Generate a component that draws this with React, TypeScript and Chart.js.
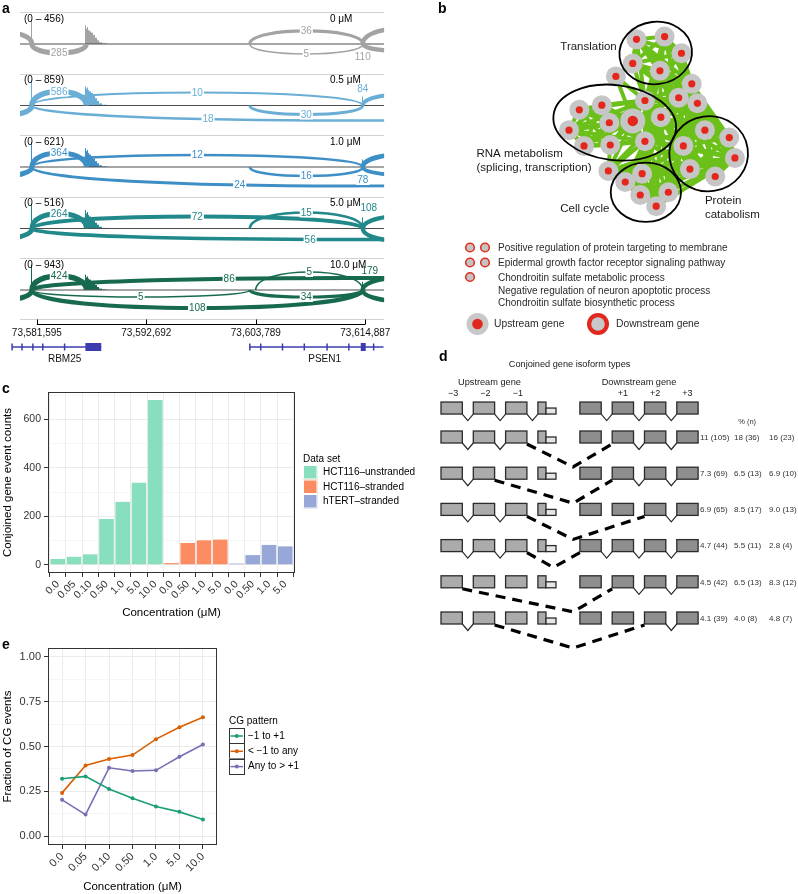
import React, { useEffect, useRef } from 'react';
import { Chart, registerables } from 'chart.js';

Chart.register(...registerables);

const FONT = '"Liberation Sans", Arial, Helvetica, sans-serif';
const fnt = (size: number, weight = 'normal') => `${weight} ${size}px ${FONT}`;

// ================= Panel a : sashimi data =================
const trackConcs = ['0 μM', '0.5 μM', '1.0 μM', '5.0 μM', '10.0 μM'];
const trackMaxCov = [456, 859, 621, 516, 943];
const trackColors = ['#a3a3a3', '#6aaed6', '#3e8fc6', '#22898b', '#176a50'];
const axisTicksA = [73581595, 73592692, 73603789, 73614887];
const viewStart = 73579888;
const viewEnd = 73616795;

const siteL = 73575000;
const siteA = 73581092;
const siteB = 73586615;
const siteC = 73603180;
const siteC2 = 73603780;
const siteD = 73614630;
const siteR = 73625000;
const siteFar = 73645000;

// [start, end, reads]
const junctions0 = [[siteL, siteA, 250], [siteA, siteB, 285], [siteC, siteD, 36], [siteC, siteD, 5], [siteD, siteR, 110], [siteD, siteR, 150]];
const junctions1 = [[siteL, siteA, 400], [siteA, siteB, 586], [siteA, siteD, 10], [siteA, siteFar, 18], [siteC, siteD, 30], [siteD, siteR, 84]];
const junctions2 = [[siteL, siteA, 300], [siteA, siteB, 364], [siteA, siteD, 12], [siteA, siteFar, 24], [siteC, siteD, 16], [siteD, siteR, 78], [siteD, siteR, 200]];
const junctions3 = [[siteL, siteA, 250], [siteA, siteB, 264], [siteA, siteD, 72], [siteC, siteD, 15], [siteA, siteFar, 56], [siteD, siteR, 108], [siteD, siteR, 120]];
const junctions4 = [[siteL, siteA, 300], [siteA, siteB, 424], [siteA, siteFar, 86], [siteC2, siteD, 5], [siteA, siteC, 5], [siteA, siteD, 108], [siteC, siteD, 34], [siteD, siteR, 179], [siteD, siteR, 150]];
const junctions = [junctions0, junctions1, junctions2, junctions3, junctions4];

// arc style: [height px (neg = above), label position along visible span (null = none), label dx, label dy]
const arcStyle0 = [[-12, null], [9, 0.5], [-13, 0.5], [10, 0.5], [7.5, 0, 0, 13], [-17, null]];
const arcStyle1 = [[10, null], [-14, 0.5], [-13, 0.5], [15, 0.5], [9, 0.5], [-12, 0, 0, -17]];
const arcStyle2 = [[9, null], [-14, 0.5], [-12, 0.5], [19, 0.59], [9, 0.5], [8.5, 0, 0, 13], [-13.5, null]];
const arcStyle3 = [[10, null], [-15, 0.5], [-12, 0.5], [-16, 0.5], [11, 0.79], [-13.5, 0, 6, -21], [13.5, null]];
const arcStyle4 = [[10, null], [-14, 0.5], [-12, 0.56], [-18, 0.5], [7, 0.5], [18, 0.5], [7, 0.5], [-13.5, 0, 7, -19], [12, null]];
const arcStyles = [arcStyle0, arcStyle1, arcStyle2, arcStyle3, arcStyle4];

const covBinStarts = [73581040, 73586515, 73586615, 73586715, 73586815, 73586915, 73587115, 73587315, 73587515, 73587715, 73587915, 73588215, 73614580];
const covBinEnds = [73581150, 73586615, 73586715, 73586815, 73586915, 73587115, 73587315, 73587515, 73587715, 73587915, 73588215, 73588715, 73614700];
const cov0 = [440, 330, 270, 300, 250, 225, 200, 160, 110, 65, 30, 12, 60];
const cov1 = [840, 640, 560, 600, 520, 470, 420, 330, 240, 150, 70, 25, 300];
const cov2 = [600, 450, 380, 410, 340, 300, 260, 200, 140, 90, 40, 15, 180];
const cov3 = [500, 370, 300, 330, 270, 240, 210, 160, 115, 75, 35, 12, 220];
const cov4 = [930, 560, 460, 500, 420, 380, 330, 260, 180, 110, 50, 18, 300];
const coverage = [cov0, cov1, cov2, cov3, cov4];

const geneNames = ['RBM25', 'PSEN1'];
const rbm25Span = [73579085, 73588121];
const psen1Span = [73603181, 73616735];
const rbm25Exons = [[73579085, 73579130], [73580089, 73580130], [73581193, 73581240], [73582197, 73582240], [73584406, 73584450], [73586515, 73588121]];
const psen1Exons = [[73603181, 73603220], [73604285, 73604330], [73606494, 73606540], [73608703, 73608750], [73611012, 73611060], [73613221, 73613270], [73614426, 73614929], [73615731, 73615780]];

// ================= Panel b : network =================
const nodeX = [7.9, 10.9, 12.7, 7.5, 10.4, 5.7, 13.8, 12.4, 14.4, 8.8, 1.8, 4.2, 7.5, 10.5, 5.0, 0.7, 2.3, 5.1, 8.8, 15.2, 17.8, 12.9, 18.4, 13.6, 16.3, 4.9, 8.5, 6.7, 11.3, 8.3, 10.0];
const nodeY = [20.1, 20.4, 18.6, 17.5, 16.7, 16.1, 15.3, 13.8, 13.2, 13.5, 12.5, 13.0, 11.3, 11.7, 11.1, 10.3, 8.6, 8.7, 9.1, 10.3, 9.5, 8.6, 7.3, 6.1, 5.3, 5.9, 5.6, 4.7, 3.6, 3.3, 2.1];
const nodeSize = [1, 1, 1, 1, 1, 1, 1, 1, 1, 1, 1, 1, 1.25, 1, 1, 1, 1, 1, 1, 1, 1, 1, 1, 1, 1, 1, 1, 1, 1, 1, 1];
const groupTranslation = [0, 1, 2, 3, 4, 6, 7, 8, 9];
const groupHub = [4, 6, 7, 8, 9, 12, 13, 18, 21, 19];
const groupProtein = [6, 7, 8, 13, 19, 20, 21, 22, 23, 24];
const groupCellCycle = [13, 18, 21, 22, 23, 25, 26, 27, 28, 29, 30];
const groupRna = [9, 10, 11, 12, 14, 15, 16, 17, 18];
const extraEdges = [[5, 3], [5, 9], [5, 12], [25, 17], [25, 12], [25, 27], [11, 9], [15, 16], [0, 3], [2, 6]];
const clusterLabels = [['Translation'], ['RNA metabolism', '(splicing, transcription)'], ['Protein', 'catabolism'], ['Cell cycle']];
const clusterCX = [9.95, 5.58, 15.6, 8.9];
const clusterCY = [18.63, 11.12, 7.75, 3.6];
const clusterRX = [3.88, 6.58, 4.2, 3.75];
const clusterRY = [3.37, 4.05, 4.05, 3.2];
const clusterRot = [-7, 7, -8, 0];
const clusterLabelX = [-0.23, -9.17, 15.2, -0.23];
const clusterLabelY = [19.3, 7.7, 2.7, 1.8];
const goTermsTwoNodes = ['Positive regulation of protein targeting to membrane', 'Epidermal growth factor receptor signaling pathway'];
const goTermsOneNode = ['Chondroitin sulfate metabolic process', 'Negative regulation of neuron apoptotic process', 'Chondroitin sulfate biosynthetic process'];

// ================= Panel c : bars =================
const concC = ['0.0', '0.05', '0.10', '0.50', '1.0', '5.0', '10.0', '0.0', '0.50', '1.0', '5.0', '0.0', '0.50', '1.0', '5.0'];
const dataSetNames = ['HCT116–unstranded', 'HCT116–stranded', 'hTERT–stranded'];
const dataSetColors = ['#88dfbd', '#fc8d62', '#97a7d8'];
const countsUnstranded = [24, 33, 43, 189, 260, 339, 681];
const countsHctStranded = [7, 90, 101, 104];
const countsHtertStranded = [5, 40, 82, 76];
const countTicks = [0, 100, 200, 300, 400, 500, 600, 700];

// ================= Panel d : isoform types =================
const upstreamExonLabels = ['−3', '−2', '−1'];
const downstreamExonLabels = ['+1', '+2', '+3'];
const isoUpEnd = [2, 1, 2, 2, 0, 1];
const isoDownStart = [1, 1, 2, 0, 1, 2];
const pctUnstranded = [11, 7.3, 6.9, 4.7, 4.5, 4.1];
const nUnstranded = [105, 69, 65, 44, 42, 39];
const pctHctStranded = [18, 6.5, 8.5, 5.5, 6.5, 4.0];
const nHctStranded = [36, 13, 17, 11, 13, 8];
const pctHtertStranded = [16, 6.9, 9.0, 2.8, 8.3, 4.8];
const nHtertStranded = [23, 10, 13, 4, 12, 7];
const UP_SLOTS = [0, 1, 2, 3];
const DOWN_SLOTS = [4.3, 5.3, 6.3, 7.3];
const EXON_W = 0.66;

// ================= Panel e : lines =================
const concE = ['0.0', '0.05', '0.10', '0.50', '1.0', '5.0', '10.0'];
const patternNames = ['−1 to +1', '< −1 to any', 'Any to > +1'];
const patternColors = ['#1b9e77', '#d95f02', '#7570b3'];
const fracMinus1ToPlus1 = [0.320, 0.333, 0.263, 0.211, 0.165, 0.135, 0.093];
const fracLessMinus1ToAny = [0.241, 0.394, 0.430, 0.452, 0.541, 0.607, 0.663];
const fracAnyToMorePlus1 = [0.202, 0.120, 0.381, 0.363, 0.367, 0.443, 0.511];
const fractionTicks = [0, 0.125, 0.25, 0.375, 0.5, 0.625, 0.75, 0.875, 1];

// ================= helpers =================
function panelLetter(ctx: any, letter: string, x: number, y: number) {
  ctx.save();
  ctx.font = fnt(14, 'bold');
  ctx.fillStyle = '#000';
  ctx.textAlign = 'left';
  ctx.textBaseline = 'alphabetic';
  ctx.fillText(letter, x, y);
  ctx.restore();
}

const panelBorder = {
  id: 'panelBorder',
  afterDraw(chart: any) {
    const { ctx, chartArea: ca } = chart;
    ctx.save();
    ctx.strokeStyle = '#333';
    ctx.lineWidth = 1;
    ctx.strokeRect(Math.round(ca.left) + 0.5, Math.round(ca.top) + 0.5, Math.round(ca.right - ca.left) - 1, Math.round(ca.bottom - ca.top) - 1);
    ctx.restore();
  },
};

const baseOpts = {
  responsive: false,
  animation: false,
  devicePixelRatio: 1,
  events: [],
};

// ================= Panel a config =================
const sashimiPlugin = {
  id: 'sashimi',
  afterDraw(chart: any) {
    const { ctx, chartArea: ca } = chart;
    const xs = chart.scales.x;
    const ys = chart.scales.y;
    const X = (v: number) => xs.getPixelForValue(v);
    const Y = (v: number) => ys.getPixelForValue(v);
    ctx.save();
    panelLetter(ctx, 'a', 2, 13.3);

    ctx.strokeStyle = '#d2d2d2';
    ctx.lineWidth = 1;
    const seps = trackConcs.map((_, i) => i - 0.52).concat([trackConcs.length - 1 + 0.47]);
    seps.forEach((v) => {
      const yy = Math.round(Y(v)) + 0.5;
      ctx.beginPath();
      ctx.moveTo(ca.left, yy);
      ctx.lineTo(ca.right, yy);
      ctx.stroke();
    });

    trackConcs.forEach((conc, i) => {
      const color = trackColors[i];
      const base = Y(i);
      ctx.save();
      ctx.beginPath();
      ctx.rect(ca.left, Y(i - 0.5), ca.right - ca.left, Y(i + 0.5) - Y(i - 0.5));
      ctx.clip();
      // coverage (integer-aligned bins so they tile without gaps)
      ctx.fillStyle = color;
      const cov = coverage[i];
      covBinStarts.forEach((s, k) => {
        const top = Y(i - (0.42 * cov[k]) / trackMaxCov[i]);
        const x0 = Math.floor(X(s));
        const x1 = Math.floor(X(covBinEnds[k]));
        ctx.fillRect(x0, top, Math.max(1, x1 - x0), base - top);
      });
      // baseline
      ctx.strokeStyle = '#4d4d4d';
      ctx.lineWidth = 1.2;
      ctx.beginPath();
      ctx.moveTo(ca.left, base);
      ctx.lineTo(ca.right, base);
      ctx.stroke();
      // arcs
      const sty = arcStyles[i];
      const geom = junctions[i].map(([s, e, n], k) => ({
        x0: X(s),
        x1: X(e),
        k: (sty[k][0] as number) / 0.75,
        lw: Math.max(1, 0.3 + 1.9 * Math.log10(n)),
        n,
      }));
      ctx.strokeStyle = color;
      ctx.lineCap = 'butt';
      geom.forEach((g) => {
        ctx.lineWidth = g.lw;
        ctx.beginPath();
        ctx.moveTo(g.x0, base);
        ctx.bezierCurveTo(g.x0, base + g.k, g.x1, base + g.k, g.x1, base);
        ctx.stroke();
      });
      ctx.restore();

      // arc labels
      ctx.font = fnt(10);
      ctx.textAlign = 'center';
      ctx.textBaseline = 'middle';
      geom.forEach((g, k) => {
        const st = sty[k];
        if (st[1] == null) return;
        const vx0 = Math.max(g.x0, ca.left);
        const vx1 = Math.min(g.x1, ca.right);
        const tx = vx0 + (st[1] as number) * (vx1 - vx0);
        const bx = (t: number) => g.x0 * ((1 - t) ** 3 + 3 * t * (1 - t) ** 2) + g.x1 * (3 * t * t * (1 - t) + t ** 3);
        let lo = 0;
        let hi = 1;
        for (let it = 0; it < 40; it++) {
          const t = (lo + hi) / 2;
          if (bx(t) < tx) lo = t;
          else hi = t;
        }
        const t = (lo + hi) / 2;
        const yt = base + 3 * t * (1 - t) * g.k;
        const lx = tx + ((st[2] as number) || 0);
        const ly = yt + ((st[3] as number) || 0);
        const txt = String(g.n);
        const w = ctx.measureText(txt).width;
        ctx.fillStyle = '#fff';
        ctx.fillRect(lx - w / 2 - 1, ly - 5, w + 2, 10);
        ctx.fillStyle = color;
        ctx.fillText(txt, lx, ly + 0.5);
      });

      // track labels
      ctx.fillStyle = '#000';
      ctx.textAlign = 'left';
      ctx.fillText(`(0 – ${trackMaxCov[i]})`, ca.left + 4, base - 25);
      ctx.fillText(conc, ca.left + 310, base - 25);
    });

    // coordinate bracket
    const by = ca.bottom + 6.5;
    ctx.strokeStyle = '#000';
    ctx.lineWidth = 1;
    ctx.beginPath();
    ctx.moveTo(X(axisTicksA[0]), by);
    ctx.lineTo(X(axisTicksA[axisTicksA.length - 1]), by);
    axisTicksA.forEach((v) => {
      const xx = Math.round(X(v)) + 0.5;
      ctx.moveTo(xx, by);
      ctx.lineTo(xx, by - 5);
    });
    ctx.stroke();

    // gene models
    const gy = ca.bottom + 29;
    const geneColor = '#3c3cb0';
    [[rbm25Span, rbm25Exons], [psen1Span, psen1Exons]].forEach(([span, exons]: any, gi) => {
      ctx.strokeStyle = geneColor;
      ctx.fillStyle = geneColor;
      ctx.lineWidth = 1.5;
      ctx.beginPath();
      ctx.moveTo(X(span[0]), gy);
      ctx.lineTo(X(span[1]), gy);
      ctx.stroke();
      exons.forEach(([s, e]: number[]) => {
        const x0 = X(s);
        const x1 = X(e);
        if (x1 - x0 < 3) {
          ctx.beginPath();
          ctx.moveTo(x0, gy - 3.5);
          ctx.lineTo(x0, gy + 3.5);
          ctx.stroke();
        } else {
          ctx.fillRect(x0, gy - 4, x1 - x0, 8);
        }
      });
      ctx.fillStyle = '#111';
      ctx.font = fnt(10);
      ctx.textAlign = 'center';
      ctx.textBaseline = 'middle';
      ctx.fillText(geneNames[gi], (X(span[0]) + X(span[1])) / 2 + 8, gy + 12);
    });
    ctx.restore();
  },
};

function configA(): any {
  return {
    type: 'scatter',
    data: { datasets: [] },
    options: {
      ...baseOpts,
      layout: { padding: { left: 20, right: 13, top: 5, bottom: 0 } },
      plugins: { legend: { display: false }, tooltip: { enabled: false } },
      scales: {
        x: {
          type: 'linear',
          min: viewStart,
          max: viewEnd,
          afterFit: (s: any) => { s.height = 52; },
          afterBuildTicks: (s: any) => { s.ticks = axisTicksA.map((v) => ({ value: v })); },
          grid: { display: false, drawTicks: false },
          border: { display: false },
          ticks: {
            color: '#111',
            font: { family: FONT, size: 10 },
            padding: 9,
            maxRotation: 0,
            minRotation: 0,
            autoSkip: false,
            callback: (v: any) => Number(v).toLocaleString('en-US'),
          },
        },
        y: { type: 'linear', display: false, reverse: true, min: -0.634, max: 4.455 },
      },
    },
    plugins: [sashimiPlugin],
  };
}

// ================= Panel b config =================
function buildEdges() {
  const edges: number[][] = [];
  [groupTranslation, groupHub, groupProtein, groupCellCycle, groupRna].forEach((g) => {
    for (let a = 0; a < g.length; a++) for (let b = a + 1; b < g.length; b++) edges.push([g[a], g[b]]);
  });
  return edges.concat(extraEdges);
}

const networkPlugin = {
  id: 'network',
  beforeDatasetsDraw(chart: any) {
    const { ctx } = chart;
    const X = (v: number) => chart.scales.x.getPixelForValue(v);
    const Y = (v: number) => chart.scales.y.getPixelForValue(v);
    ctx.save();
    ctx.strokeStyle = '#6cc01a';
    ctx.lineWidth = 4;
    ctx.lineCap = 'round';
    buildEdges().forEach(([a, b]) => {
      ctx.beginPath();
      ctx.moveTo(X(nodeX[a]), Y(nodeY[a]));
      ctx.lineTo(X(nodeX[b]), Y(nodeY[b]));
      ctx.stroke();
    });
    ctx.restore();
  },
  afterDatasetsDraw(chart: any) {
    const { ctx } = chart;
    const X = (v: number) => chart.scales.x.getPixelForValue(v);
    const Y = (v: number) => chart.scales.y.getPixelForValue(v);
    const ux = X(1) - X(0);
    const uy = Y(0) - Y(1);
    ctx.save();
    panelLetter(ctx, 'b', 38, 13.3);
    ctx.strokeStyle = '#000';
    ctx.lineWidth = 1.8;
    clusterCX.forEach((cx, i) => {
      ctx.beginPath();
      ctx.ellipse(X(cx), Y(clusterCY[i]), clusterRX[i] * ux, clusterRY[i] * uy, (clusterRot[i] * Math.PI) / 180, 0, Math.PI * 2);
      ctx.stroke();
    });
    ctx.fillStyle = '#1a1a1a';
    ctx.font = fnt(11.5);
    ctx.textAlign = 'left';
    ctx.textBaseline = 'middle';
    clusterLabels.forEach((lines, i) => {
      lines.forEach((ln, j) => {
        ctx.fillText(ln, X(clusterLabelX[i]), Y(clusterLabelY[i]) + j * 14);
      });
    });

    // legend
    const ringSmall = (x: number, y: number) => {
      ctx.beginPath();
      ctx.arc(x, y, 4.3, 0, Math.PI * 2);
      ctx.fillStyle = '#c4c4c4';
      ctx.fill();
      ctx.strokeStyle = '#e0311f';
      ctx.lineWidth = 1.6;
      ctx.stroke();
    };
    ctx.font = fnt(10);
    goTermsTwoNodes.forEach((t, i) => {
      const y = 247.5 + i * 15;
      ringSmall(70, y);
      ringSmall(85, y);
      ctx.fillStyle = '#2a2a2a';
      ctx.fillText(t, 98, y + 0.5);
    });
    ringSmall(70, 277);
    goTermsOneNode.forEach((t, i) => {
      ctx.fillStyle = '#2a2a2a';
      ctx.fillText(t, 98, 278.5 + i * 12.3);
    });
    // upstream / downstream keys
    ctx.beginPath();
    ctx.arc(77.5, 324, 11, 0, Math.PI * 2);
    ctx.fillStyle = '#c8c8c8';
    ctx.fill();
    ctx.beginPath();
    ctx.arc(77.5, 324, 5.3, 0, Math.PI * 2);
    ctx.fillStyle = '#e0281e';
    ctx.fill();
    ctx.beginPath();
    ctx.arc(198, 324, 11, 0, Math.PI * 2);
    ctx.fillStyle = '#e0281e';
    ctx.fill();
    ctx.beginPath();
    ctx.arc(198, 324, 6.8, 0, Math.PI * 2);
    ctx.fillStyle = '#c8c8c8';
    ctx.fill();
    ctx.fillStyle = '#2a2a2a';
    ctx.font = fnt(10.3);
    ctx.fillText('Upstream gene', 94, 324.5);
    ctx.fillText('Downstream gene', 216, 324.5);
    ctx.restore();
  },
};

function configB(): any {
  const pts = nodeX.map((x, i) => ({ x, y: nodeY[i] }));
  return {
    type: 'scatter',
    data: {
      datasets: [
        { data: pts, pointRadius: (c: any) => 3.6 * nodeSize[c.dataIndex] ** 1.7, backgroundColor: '#e5261c', borderWidth: 0, clip: false },
        { data: pts, pointRadius: (c: any) => 10 * nodeSize[c.dataIndex], backgroundColor: '#c6c6c6', borderWidth: 0, clip: false },
      ],
    },
    options: {
      ...baseOpts,
      layout: { padding: 0 },
      plugins: { legend: { display: false }, tooltip: { enabled: false } },
      scales: {
        x: { type: 'linear', display: false, min: -16, max: 23.8 },
        y: { type: 'linear', display: false, min: -11, max: 23 },
      },
    },
    plugins: [networkPlugin],
  };
}

// ================= Panel c config =================
const legendC = {
  id: 'legendC',
  afterDraw(chart: any) {
    const { ctx, chartArea: ca } = chart;
    ctx.save();
    panelLetter(ctx, 'c', 2, 23);
    const lx = ca.right + 8;
    ctx.font = fnt(10);
    ctx.fillStyle = '#000';
    ctx.textAlign = 'left';
    ctx.textBaseline = 'middle';
    ctx.fillText('Data set', lx, ca.top + 67.5);
    chart.data.datasets.forEach((ds: any, i: number) => {
      const top = ca.top + 73 + i * 14.5;
      ctx.fillStyle = ds.backgroundColor;
      ctx.fillRect(lx, top, 14.5, 14.5);
      ctx.strokeStyle = '#ffffff';
      ctx.lineWidth = 1;
      ctx.strokeRect(lx + 0.5, top + 0.5, 13.5, 13.5);
      ctx.fillStyle = '#000';
      ctx.fillText(ds.label, lx + 20, top + 7.5);
    });
    ctx.restore();
  },
};

function configC(): any {
  const groups = [countsUnstranded, countsHctStranded, countsHtertStranded];
  let offset = 0;
  const datasets = groups.map((vals, gi) => {
    const data = vals.map((v, j) => ({ x: offset + j, y: v }));
    offset += vals.length;
    return {
      label: dataSetNames[gi],
      data,
      backgroundColor: dataSetColors[gi],
      borderWidth: 0,
      grouped: false,
      barPercentage: 1,
      categoryPercentage: 0.9,
    };
  });
  return {
    type: 'bar',
    data: { datasets },
    options: {
      ...baseOpts,
      layout: { padding: { left: 0, right: 125, top: 22, bottom: 0 } },
      plugins: { legend: { display: false }, tooltip: { enabled: false } },
      scales: {
        x: {
          type: 'linear',
          min: -0.6,
          max: 14.6,
          offset: false,
          afterFit: (s: any) => { s.height = 52; },
          afterBuildTicks: (s: any) => { s.ticks = concC.map((_, i) => ({ value: i })); },
          grid: { color: '#ebebeb', lineWidth: 1, drawTicks: true, tickLength: 4, tickColor: '#333', tickWidth: 1 },
          border: { display: false },
          ticks: {
            autoSkip: false,
            minRotation: 45,
            maxRotation: 45,
            padding: 1,
            color: '#333',
            font: { family: FONT, size: 10.5 },
            callback: (v: any) => concC[v],
          },
          title: { display: true, text: 'Concentration (μM)', color: '#000', font: { family: FONT, size: 11.5 }, padding: { top: 0, bottom: 5 } },
        },
        y: {
          type: 'linear',
          min: -34,
          max: 714,
          afterFit: (s: any) => { s.width = 48; },
          afterBuildTicks: (s: any) => { s.ticks = countTicks.map((v) => ({ value: v })); },
          grid: {
            color: (c: any) => (c.tick && c.tick.value % 200 === 0 ? '#ebebeb' : '#f5f5f5'),
            tickColor: (c: any) => (c.tick && c.tick.value % 200 === 0 ? '#333' : 'rgba(0,0,0,0)'),
            tickLength: 4,
            drawTicks: true,
          },
          border: { display: false },
          ticks: {
            autoSkip: false,
            color: '#333',
            padding: 3,
            font: { family: FONT, size: 10.5 },
            callback: (v: any) => (v % 200 === 0 ? String(v) : ''),
          },
          title: { display: true, text: 'Conjoined gene event counts', color: '#000', font: { family: FONT, size: 11.5 }, padding: { top: 1, bottom: 0 } },
        },
      },
    },
    plugins: [panelBorder, legendC],
  };
}

// ================= Panel d config =================
const isoformPlugin = {
  id: 'isoforms',
  afterDraw(chart: any) {
    const { ctx } = chart;
    const X = (v: number) => chart.scales.x.getPixelForValue(v);
    const Y = (v: number) => chart.scales.y.getPixelForValue(v);
    const BH = 12;
    const rowVal = (r: number) => (r === 0 ? -0.8 : r - 1);
    const upRight = (j: number) => (j < 3 ? X(UP_SLOTS[j] + EXON_W) : X(UP_SLOTS[3] + 0.56));
    const upLeft = (j: number) => X(UP_SLOTS[j]);
    const downLeft = (j: number) => X(DOWN_SLOTS[j]);
    const downRight = (j: number) => X(DOWN_SLOTS[j] + EXON_W);
    ctx.save();
    panelLetter(ctx, 'd', 39, 21);

    const box = (x0: number, y0: number, w: number, h: number, fill: string) => {
      ctx.fillStyle = fill;
      ctx.fillRect(x0, y0, w, h);
      ctx.strokeStyle = '#2b2b2b';
      ctx.lineWidth = 1.3;
      ctx.strokeRect(x0, y0, w, h);
    };
    const vIntron = (x0: number, x1: number, bot: number) => {
      ctx.strokeStyle = '#2b2b2b';
      ctx.lineWidth = 1.2;
      ctx.beginPath();
      ctx.moveTo(x0, bot);
      ctx.lineTo((x0 + x1) / 2, bot + 6.5);
      ctx.lineTo(x1, bot);
      ctx.stroke();
    };

    const nRows = isoUpEnd.length + 1;
    for (let r = 0; r < nRows; r++) {
      const top = Y(rowVal(r));
      const bot = top + BH;
      for (let j = 0; j < 3; j++) box(upLeft(j), top, upRight(j) - upLeft(j), BH, '#ababab');
      const sx = X(UP_SLOTS[3]);
      const sm = X(UP_SLOTS[3] + 0.25);
      box(sx, top, sm - sx, BH, '#ababab');
      box(sm, top + BH / 2, upRight(3) - sm, BH / 2, '#e6e6e6');
      for (let j = 0; j < 4; j++) box(downLeft(j), top, downRight(j) - downLeft(j), BH, '#8e8e8e');

      if (r === 0) {
        for (let j = 0; j < 3; j++) vIntron(upRight(j), upLeft(j + 1), bot);
        for (let j = 0; j < 3; j++) vIntron(downRight(j), downLeft(j + 1), bot);
      } else {
        const ue = isoUpEnd[r - 1];
        const ds = isoDownStart[r - 1];
        for (let j = 0; j < ue; j++) vIntron(upRight(j), upLeft(j + 1), bot);
        for (let j = ds; j < 3; j++) vIntron(downRight(j), downLeft(j + 1), bot);
        const sx0 = upRight(ue);
        const sx1 = downLeft(ds);
        const spanVal = DOWN_SLOTS[ds] - (UP_SLOTS[ue] + EXON_W);
        const ax = spanVal > 2 ? X(4.09) : (sx0 + sx1) / 2;
        const ay = bot + Math.min(24, 0.3 * (sx1 - sx0));
        ctx.strokeStyle = '#000';
        ctx.lineWidth = 3.2;
        ctx.setLineDash([10, 7]);
        ctx.beginPath();
        ctx.moveTo(sx0, bot + 1);
        ctx.lineTo(ax, ay);
        ctx.lineTo(sx1, bot + 1);
        ctx.stroke();
        ctx.setLineDash([]);

        ctx.fillStyle = '#333';
        ctx.font = fnt(8);
        ctx.textAlign = 'left';
        ctx.textBaseline = 'middle';
        const fmt = (p: number, n: number) => `${p >= 10 ? String(p) : p.toFixed(1)} (${n})`;
        const endX = downRight(3);
        ctx.fillText(fmt(pctUnstranded[r - 1], nUnstranded[r - 1]), endX + 2, top + 6.5);
        ctx.fillText(fmt(pctHctStranded[r - 1], nHctStranded[r - 1]), endX + 36, top + 6.5);
        ctx.fillText(fmt(pctHtertStranded[r - 1], nHtertStranded[r - 1]), endX + 71, top + 6.5);
      }
    }

    const top0 = Y(rowVal(0));
    ctx.fillStyle = '#1a1a1a';
    ctx.textAlign = 'center';
    ctx.textBaseline = 'middle';
    ctx.font = fnt(9.2);
    ctx.fillText('Conjoined gene isoform types', (X(0) + downRight(3)) / 2, top0 - 38);
    ctx.fillText('Upstream gene', (X(UP_SLOTS[0]) + X(UP_SLOTS[3])) / 2, top0 - 20);
    ctx.fillText('Downstream gene', (downLeft(0) + downRight(3)) / 2, top0 - 20);
    ctx.font = fnt(9);
    upstreamExonLabels.forEach((t, j) => ctx.fillText(t, (upLeft(j) + upRight(j)) / 2 + 1.5, top0 - 8.5));
    downstreamExonLabels.forEach((t, j) => ctx.fillText(t, (downLeft(j + 1) + downRight(j + 1)) / 2, top0 - 8.5));
    ctx.font = fnt(7.5);
    ctx.fillStyle = '#333';
    ctx.fillText('% (n)', downRight(3) + 49, Y(rowVal(1)) - 9);
    ctx.restore();
  },
};

function configD(): any {
  return {
    type: 'scatter',
    data: { datasets: [] },
    options: {
      ...baseOpts,
      layout: { padding: 0 },
      plugins: { legend: { display: false }, tooltip: { enabled: false } },
      scales: {
        x: { type: 'linear', display: false, min: -1.2693, max: 11.0526 },
        y: { type: 'linear', display: false, reverse: true, min: -2.5138, max: 6.326 },
      },
    },
    plugins: [isoformPlugin],
  };
}

// ================= Panel e config =================
const legendE = {
  id: 'legendE',
  afterDraw(chart: any) {
    const { ctx, chartArea: ca } = chart;
    ctx.save();
    panelLetter(ctx, 'e', 2, 19.3);
    const lx = ca.right + 12;
    ctx.font = fnt(10);
    ctx.fillStyle = '#000';
    ctx.textAlign = 'left';
    ctx.textBaseline = 'middle';
    ctx.fillText('CG pattern', lx, ca.top + 73);
    chart.data.datasets.forEach((ds: any, i: number) => {
      const top = ca.top + 80 + i * 15.3;
      ctx.fillStyle = '#fff';
      ctx.fillRect(lx, top, 15, 15.3);
      ctx.strokeStyle = '#333';
      ctx.lineWidth = 1;
      ctx.strokeRect(Math.round(lx) + 0.5, Math.round(top) + 0.5, 15, 15);
      ctx.strokeStyle = ds.borderColor;
      ctx.lineWidth = 1.5;
      ctx.beginPath();
      ctx.moveTo(lx + 1.5, top + 8);
      ctx.lineTo(lx + 14, top + 8);
      ctx.stroke();
      ctx.beginPath();
      ctx.arc(lx + 7.8, top + 8, 2, 0, Math.PI * 2);
      ctx.fillStyle = ds.borderColor;
      ctx.fill();
      ctx.fillStyle = '#000';
      ctx.fillText(ds.label, lx + 19, top + 8);
    });
    ctx.restore();
  },
};

function configE(): any {
  const series = [fracMinus1ToPlus1, fracLessMinus1ToAny, fracAnyToMorePlus1];
  const isMajor = (v: number) => Math.abs(v * 4 - Math.round(v * 4)) < 1e-9;
  return {
    type: 'line',
    data: {
      datasets: series.map((vals, i) => ({
        label: patternNames[i],
        data: vals.map((v, j) => ({ x: j, y: v })),
        borderColor: patternColors[i],
        backgroundColor: patternColors[i],
        borderWidth: 1.6,
        pointRadius: 2,
        pointBorderWidth: 0,
        tension: 0,
      })),
    },
    options: {
      ...baseOpts,
      layout: { padding: { left: 0, right: 183, top: 18, bottom: 0 } },
      plugins: { legend: { display: false }, tooltip: { enabled: false } },
      scales: {
        x: {
          type: 'linear',
          min: -0.6,
          max: 6.6,
          afterFit: (s: any) => { s.height = 49; },
          afterBuildTicks: (s: any) => { s.ticks = concE.map((_, i) => ({ value: i })); },
          grid: { color: '#ebebeb', drawTicks: true, tickLength: 4, tickColor: '#333' },
          border: { display: false },
          ticks: {
            autoSkip: false,
            minRotation: 45,
            maxRotation: 45,
            padding: 1,
            color: '#333',
            font: { family: FONT, size: 11 },
            callback: (v: any) => concE[v],
          },
          title: { display: true, text: 'Concentration (μM)', color: '#000', font: { family: FONT, size: 11.5 }, padding: { top: 0, bottom: 0 } },
        },
        y: {
          type: 'linear',
          min: -0.05,
          max: 1.05,
          afterFit: (s: any) => { s.width = 48; },
          afterBuildTicks: (s: any) => { s.ticks = fractionTicks.map((v) => ({ value: v })); },
          grid: {
            color: (c: any) => (c.tick && isMajor(c.tick.value) ? '#ebebeb' : '#f5f5f5'),
            tickColor: (c: any) => (c.tick && isMajor(c.tick.value) ? '#333' : 'rgba(0,0,0,0)'),
            tickLength: 4,
            drawTicks: true,
          },
          border: { display: false },
          ticks: {
            autoSkip: false,
            color: '#333',
            padding: 3,
            font: { family: FONT, size: 11 },
            callback: (v: any) => (isMajor(v) ? Number(v).toFixed(2) : ''),
          },
          title: { display: true, text: 'Fraction of CG events', color: '#000', font: { family: FONT, size: 11.5 }, padding: { top: 1, bottom: 0 } },
        },
      },
    },
    plugins: [panelBorder, legendE],
  };
}

// ================= components =================
function ChartCanvas({ left, top, width, height, make }: any) {
  const ref = useRef<HTMLCanvasElement>(null);
  useEffect(() => {
    const chart = new Chart(ref.current as HTMLCanvasElement, make());
    return () => chart.destroy();
  }, []);
  return (
    <canvas
      ref={ref}
      width={width}
      height={height}
      style={{ position: 'absolute', left, top, width, height, display: 'block' }}
    />
  );
}

export default function App() {
  return (
    <div style={{ position: 'absolute', left: 0, top: 0, width: 798, height: 894, background: '#fff', overflow: 'hidden' }}>
      <ChartCanvas left={0} top={0} width={400} height={370} make={configA} />
      <ChartCanvas left={400} top={0} width={398} height={340} make={configB} />
      <ChartCanvas left={0} top={370} width={420} height={255} make={configC} />
      <ChartCanvas left={400} top={340} width={398} height={320} make={configD} />
      <ChartCanvas left={0} top={630} width={400} height={264} make={configE} />
    </div>
  );
}
